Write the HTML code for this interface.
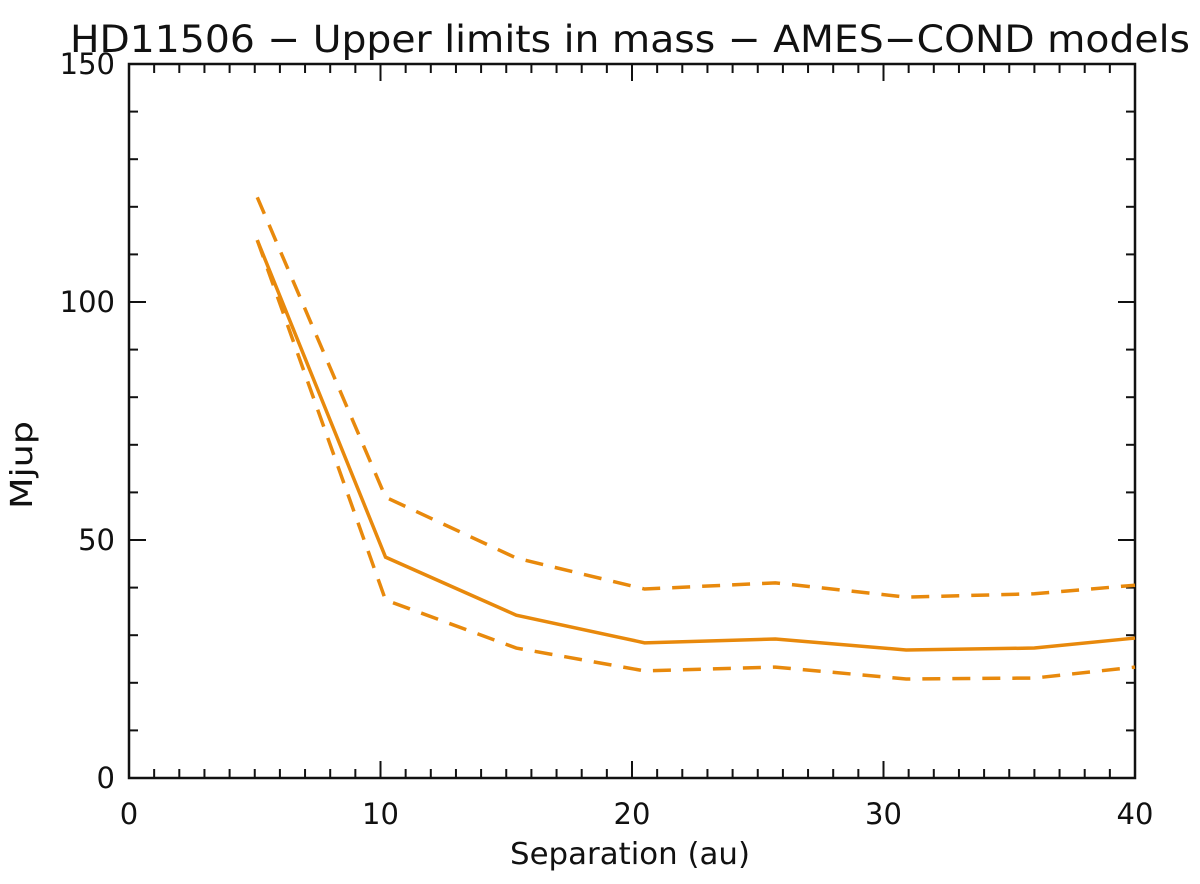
<!DOCTYPE html>
<html><head><meta charset="utf-8"><style>
body{margin:0;background:#fff;}
svg{display:block;font-family:"DejaVu Sans","Liberation Sans",sans-serif;}
</style></head><body>
<svg width="1200" height="884">
<text x="630" y="52" font-size="37" text-anchor="middle" fill="#111" textLength="1120" lengthAdjust="spacingAndGlyphs">HD11506 − Upper limits in mass − AMES−COND models</text>
<g id="axes"></g>
<g id="series"></g>
<text x="630" y="864" font-size="30" text-anchor="middle" fill="#111" textLength="240" lengthAdjust="spacingAndGlyphs">Separation (au)</text>
<text x="32" y="465" font-size="30" text-anchor="middle" fill="#111" textLength="88" lengthAdjust="spacingAndGlyphs" transform="rotate(-90 32 465)">Mjup</text>
</svg>
<script>
const sep=[5.1,10.2,15.4,20.5,25.7,30.9,36.0,40];
const massMid=[113,46.4,34.2,28.4,29.2,26.9,27.3,29.4];
const massUpper=[122,59,46.2,39.7,41,38,38.7,40.5];
const massLower=[113,37.4,27.3,22.5,23.3,20.8,21,23.3];
const xTicks=[0,10,20,30,40];
const yTicks=[0,50,100,150];
const L=129,R=1135,T=64,B=778;
const X=v=>L+(v-0)/40*(R-L), Y=v=>B-(v/150)*(B-T);
const NS="http://www.w3.org/2000/svg";
const ax=document.getElementById('axes'), se=document.getElementById('series');
function mk(t,a,p){const e=document.createElementNS(NS,t);for(const k in a)e.setAttribute(k,a[k]);p.appendChild(e);return e;}
const fr=mk('rect',{x:L,y:T,width:R-L,height:B-T,fill:'none',stroke:'#111','stroke-width':2.5},ax);


for(let v=0;v<=40;v++){const maj=v%10==0,len=maj?17:9,x=X(v);
 mk('line',{x1:x,x2:x,y1:B,y2:B-len,stroke:'#111','stroke-width':2},ax);
 mk('line',{x1:x,x2:x,y1:T,y2:T+len,stroke:'#111','stroke-width':2},ax);}
for(let v=0;v<=150;v+=10){const maj=v%50==0,len=maj?17:9,y=Y(v);
 mk('line',{x1:L,x2:L+len,y1:y,y2:y,stroke:'#111','stroke-width':2},ax);
 mk('line',{x1:R,x2:R-len,y1:y,y2:y,stroke:'#111','stroke-width':2},ax);}
xTicks.forEach(v=>{const t=mk('text',{x:X(v),y:B+46,'font-size':29,'text-anchor':'middle',fill:'#111'},ax);t.textContent=v;

});
yTicks.forEach(v=>{const t=mk('text',{x:L-14,y:Y(v)+10,'font-size':29,'text-anchor':'end',fill:'#111'},ax);t.textContent=v;

});
function line(ys,dash,name){const p=mk('polyline',{points:sep.map((s,i)=>X(s)+','+Y(ys[i])).join(' '),fill:'none',stroke:'#e8890c','stroke-width':3.5,'stroke-dasharray':dash},se);

}
line(massUpper,'18 12','upper-limit-line');
line(massLower,'18 12','lower-limit-line');
line(massMid,'none','mass-limit-line');
</script>
</body></html>
